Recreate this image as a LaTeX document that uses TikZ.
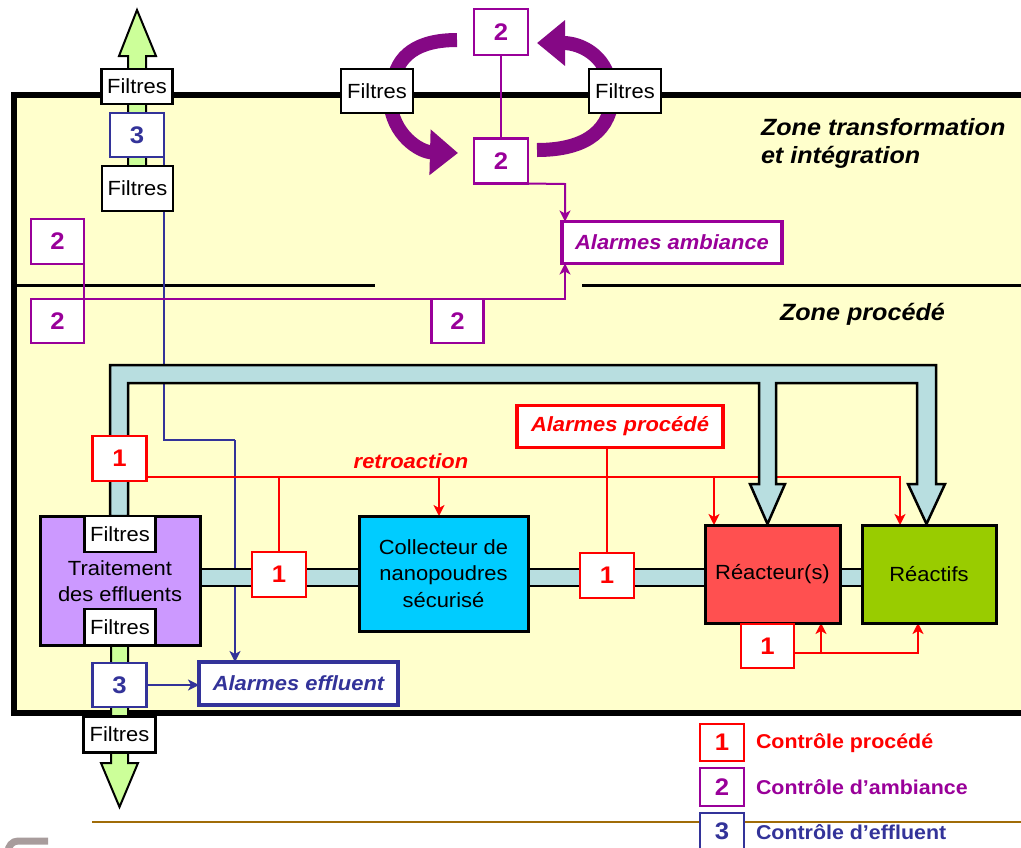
\documentclass[tikz,border=0pt]{standalone}
\usepackage{fontspec}
\setmainfont{Liberation Sans}[FakeStretch=1.07]
\usetikzlibrary{arrows.meta,calc}
\pgfdeclarelayer{zonelayer}
\pgfdeclarelayer{wirelayer}
\pgfdeclarelayer{pipelayer}
\pgfsetlayers{zonelayer,wirelayer,pipelayer,main}
\definecolor{zoneY}{HTML}{FFFFCC}
\definecolor{cRed}{HTML}{FF0000}
\definecolor{cPur}{HTML}{990099}
\definecolor{cArc}{HTML}{850885}
\definecolor{cBlu}{HTML}{333399}
\definecolor{pipeblue}{HTML}{B8DEE0}
\definecolor{cGreen}{HTML}{CCFF99}
\definecolor{cTrait}{HTML}{CC99FF}
\definecolor{cColl}{HTML}{00CCFF}
\definecolor{cReac}{HTML}{FF5050}
\definecolor{cReactifs}{HTML}{99CC00}
\definecolor{cBrown}{HTML}{A06C08}
\definecolor{cLogo}{HTML}{A89C9C}
\begin{document}
\begin{tikzpicture}[x=1pt,y=-1pt,
  every node/.style={inner sep=0pt, outer sep=0pt},
  numbox/.style={draw, fill=white, line width=2.5pt, minimum width=54pt, minimum height=45pt, font=\fontsize{24}{24}\selectfont\bfseries},
  filt/.style={draw=black, fill=white, line width=2.5pt, minimum width=71pt, minimum height=36pt, font=\fontsize{20.5}{20.5}\selectfont},
  alarm/.style={draw, fill=white, line width=3.5pt, minimum height=42pt, font=\fontsize{20.5}{20.5}\selectfont\bfseries\itshape},
  proc/.style={draw=black, line width=3pt, align=center, font=\fontsize{20.5}{26.5}\selectfont},
  sig/.style={line width=2pt, -{Stealth[length=11pt,width=11pt,inset=3pt]}},
  wire/.style={line width=2pt},
  pipe/.style={fill=pipeblue, draw=black, line width=2.5pt, line join=miter},
  garrow/.style={fill=cGreen, draw=black, line width=2pt, line join=miter},
  parc/.style={draw=cArc, line width=14pt, -{Triangle[length=28pt,width=44pt]}},
  parcn/.style={draw=cArc, line width=14pt},
  zonetxt/.style={anchor=base west, font=\fontsize{23.5}{23.5}\selectfont\bfseries\itshape},
  legtxt/.style={anchor=west, font=\fontsize{20}{20}\selectfont\bfseries}
]
\useasboundingbox (0,0) rectangle (1021,847);

% zones
\begin{pgfonlayer}{zonelayer}
\draw[line width=6pt, fill=zoneY] (14,95) rectangle (1045,713);
\draw[line width=3pt] (14,285) -- (375,285);
\draw[line width=3pt] (582,285) -- (1025,285);
\node[zonetxt] at (761,135) {Zone transformation};
\node[zonetxt] at (761,163) {et intégration};
\node[zonetxt] at (780,320) {Zone procédé};
\end{pgfonlayer}

\begin{pgfonlayer}{pipelayer}
% purple cycle arrows
\draw[parcn] (457,40) .. controls (418,40) and (396,55) .. (393,85);
\draw[parc] (390,100) .. controls (392,135) and (420,152) .. (458,153);
\draw[parcn] (537,150) .. controls (580,150) and (608,135) .. (612,100);
\draw[parc] (610,85) .. controls (606,55) and (580,43) .. (537,43);
% green arrows
\draw[garrow] (128,188) -- (128,56) -- (119,56) -- (137,10) -- (156,56) -- (146,56) -- (146,188) -- cycle;
\draw[garrow] (111,640) -- (111,763) -- (101,763) -- (119.5,807) -- (138,763) -- (128,763) -- (128,640) -- cycle;
% pipes
\draw[pipe] (110,516) -- (110,365) -- (936,365) -- (936,484) -- (945,484) -- (926.5,524) -- (908,484) -- (917,484) -- (917,383)
  -- (776,383) -- (776,484) -- (785,484) -- (767.5,524) -- (750,484) -- (759,484) -- (759,383) -- (128,383) -- (128,516) -- cycle;
\fill[pipeblue] (200,569) rectangle (862,586);
\draw[line width=2.5pt] (200,569) -- (862,569) (200,586) -- (862,586);
\end{pgfonlayer}

% nodes: alarms
\node[alarm, draw=cPur, text=cPur, minimum width=220pt] (aamb) at (672,242.5) {Alarmes ambiance};
\node[alarm, draw=cRed, text=cRed, minimum width=206pt] (aproc) at (620,426.5) {Alarmes procédé};
\node[alarm, draw=cBlu, text=cBlu, minimum width=199pt, minimum height=43pt] (aeff) at (298.5,683.5) {Alarmes effluent};

% process boxes
\node[proc, fill=cTrait, minimum width=160pt, minimum height=129pt] (trait) at (120,580.5) {};
\node[proc, fill=cColl, minimum width=169pt, minimum height=115pt] (coll) at (443.5,573.5) {Collecteur de\\nanopoudres\\sécurisé};
\node[proc, fill=cReac, minimum width=135pt, minimum height=98pt] (reac) at (772.5,574) {Réacteur(s)};
\node[proc, fill=cReactifs, minimum width=134pt, minimum height=98pt] (reactifs) at (929,574) {Réactifs};
\node[align=center, font=\fontsize{20.5}{26.5}\selectfont] (traitxt) at (120,581) {Traitement\\des effluents};

% number boxes
\node[numbox, draw=cBlu, text=cBlu, minimum height=44pt] (b3t) at (137,135) {3};
\node[numbox, draw=cBlu, text=cBlu, minimum height=44pt] (b3b) at (119.5,685) {3};
\node[numbox, draw=cPur, text=cPur, minimum height=46pt] (p2top) at (501,32) {2};
\node[numbox, draw=cPur, text=cPur] (p2low) at (501,161) {2};
\node[numbox, draw=cPur, text=cPur, minimum width=53pt] (p2ul) at (57.5,241.5) {2};
\node[numbox, draw=cPur, text=cPur, minimum width=53pt, minimum height=44pt] (p2ll) at (57.5,321) {2};
\node[numbox, draw=cPur, text=cPur, minimum width=52pt, minimum height=44pt] (p2m) at (457.5,321) {2};
\node[numbox, draw=cRed, text=cRed] (r1a) at (119.5,458.5) {1};
\node[numbox, draw=cRed, text=cRed] (r1b) at (279,574.5) {1};
\node[numbox, draw=cRed, text=cRed] (r1c) at (607,575.5) {1};
\node[numbox, draw=cRed, text=cRed, minimum width=53pt, minimum height=44pt] (r1d) at (767.5,646) {1};

% filter boxes
\node[filt, minimum height=35pt] (f1) at (137,86.5) {Filtres};
\node[filt, minimum height=45pt] (f2) at (137.5,188.5) {Filtres};
\node[filt, minimum width=72pt, minimum height=44pt] (f3) at (377,91) {Filtres};
\node[filt, minimum width=72pt, minimum height=44pt] (f4) at (625,91) {Filtres};
\node[filt] (f5) at (120,534) {Filtres};
\node[filt] (f6) at (120,627) {Filtres};
\node[filt, minimum width=72pt] (f7) at (119.5,734.5) {Filtres};

% retroaction label
\node[text=cRed, font=\fontsize{20.5}{20.5}\selectfont\bfseries\itshape] (retro) at (411,461) {retroaction};

% connectors
\begin{pgfonlayer}{wirelayer}
% blue
\coordinate (bj1) at (b3t.south east |- 0,440);
\coordinate (bj2) at (235,440);
\draw[wire, draw=cBlu] (b3t.south east) -- (bj1) -- (bj2);
\draw[sig, draw=cBlu] (bj2) -- (bj2 |- aeff.north);
\draw[sig, draw=cBlu] (b3b.east) -- (b3b.east -| aeff.west);
% purple
\draw[wire, draw=cPur] (p2top.south) -- (p2low.north);
\coordinate (pa) at (565,184);
\draw[sig, draw=cPur] (p2low.south east) -- (pa) -- (pa |- aamb.north);
\coordinate (pb) at (565,299);
\draw[sig, draw=cPur] (p2ul.south east) |- (pb) -- (pb |- aamb.south);
% red
\coordinate (rs) at ([yshift=4pt]r1a.south east);
\coordinate (rt) at (900,0 |- rs);
\draw[sig, draw=cRed] (rs) -- (rt) -- (rt |- reactifs.north);
\coordinate (rc) at (439,0 |- rs);
\draw[sig, draw=cRed] (rc) -- (rc |- coll.north);
\coordinate (rr) at (714,0 |- rs);
\draw[sig, draw=cRed] (rr) -- (rr |- reac.north);
\draw[wire, draw=cRed] (r1b.north) -- (r1b.north |- rs);
\draw[wire, draw=cRed] (r1c.north) -- (r1c.north |- aproc.south);
\coordinate (rd0) at ([yshift=-7pt]r1d.east);
\coordinate (rd1) at (918,0 |- rd0);
\coordinate (rd2) at (821,0 |- rd0);
\draw[sig, draw=cRed] (rd0) -- (rd1) -- (rd1 |- reactifs.south);
\draw[sig, draw=cRed] (rd2) -- (rd2 |- reac.south);
\end{pgfonlayer}

% legend
\draw[line width=2.5pt, cBrown] (92,822) -- (1025,822);
\node[numbox, draw=cRed, text=cRed, minimum width=44pt, minimum height=37pt] (lg1) at (722,742.5) {1};
\node[numbox, draw=cPur, text=cPur, minimum width=44pt, minimum height=38pt] (lg2) at (722,787) {2};
\node[numbox, draw=cBlu, text=cBlu, minimum width=44pt, minimum height=37pt] (lg3) at (722,831.5) {3};
\node[legtxt, text=cRed] (lt1) at (756,743) {Contrôle procédé};
\node[legtxt, text=cPur] (lt2) at (756,787) {Contrôle d’ambiance};
\node[legtxt, text=cBlu] (lt3) at (756,832) {Contrôle d’effluent};

% logo fragment
\draw[cLogo, line width=7pt] (48,841) -- (18,841) to[out=180,in=90] (8,852);

\end{tikzpicture}
\end{document}
